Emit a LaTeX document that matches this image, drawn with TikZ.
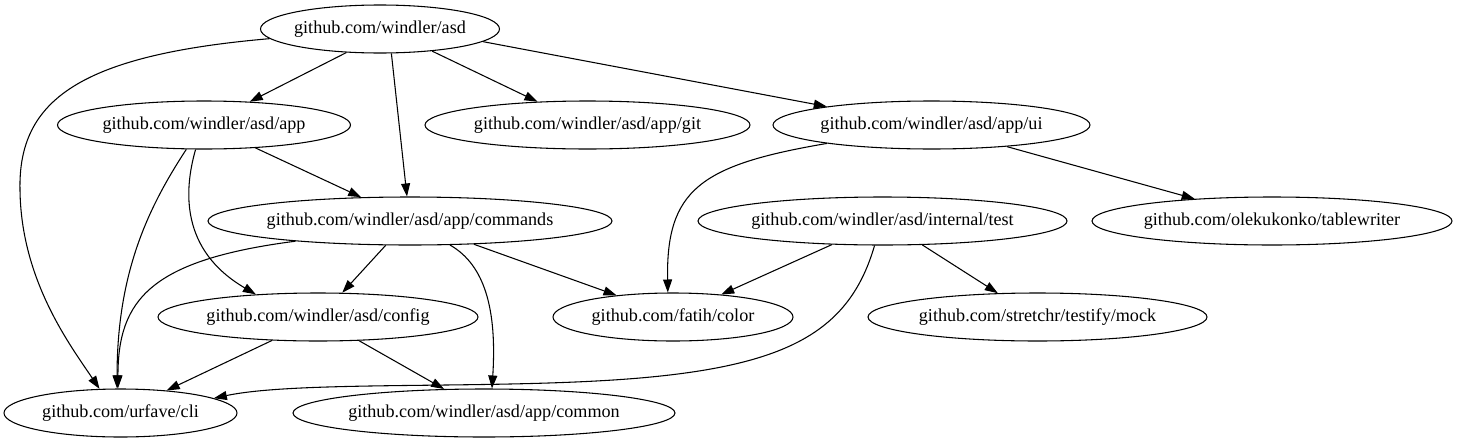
\documentclass[tikz,border=0pt]{standalone}
\usepackage{fontspec}
\setmainfont{Liberation Serif}
\usetikzlibrary{shapes.geometric,arrows.meta}

\begin{document}
\begin{tikzpicture}[x=0.75pt, y=-0.75pt,
  pkg/.style={draw, ellipse, line width=0.8pt, inner ysep=0pt, inner xsep=-4pt, minimum height=36pt, minimum width=#1*0.75pt, font=\fontsize{13.6}{16}\selectfont},
  dep/.style={line width=0.8pt, -{Triangle[length=9.75pt, width=6.75pt]}}]

\useasboundingbox (0,0) rectangle (1459,443);

\node [pkg=239] (asd) at (380,29) {github.com/windler/asd};
\node [pkg=293] (app) at (204,125) {github.com/windler/asd/app};
\node [pkg=325] (git) at (587.5,125) {github.com/windler/asd/app/git};
\node [pkg=317] (ui) at (931.5,125) {github.com/windler/asd/app/ui};
\node [pkg=404] (cmds) at (410,221) {github.com/windler/asd/app/commands};
\node [pkg=369] (test) at (882.5,221) {github.com/windler/asd/internal/test};
\node [pkg=360] (tw) at (1272,221) {github.com/olekukonko/tablewriter};
\node [pkg=320] (config) at (318,317) {github.com/windler/asd/config};
\node [pkg=240] (color) at (673,317) {github.com/fatih/color};
\node [pkg=339] (mock) at (1037.5,317) {github.com/stretchr/testify/mock};
\node [pkg=233] (cli) at (120.5,413) {github.com/urfave/cli};
\node [pkg=382] (common) at (484,413) {github.com/windler/asd/app/common};

\draw [dep] (asd.215) -- (app.27);
\draw [dep] (asd.295) -- (cmds.97);
\draw [dep] (asd.337) -- (git.155);
\draw [dep] (asd.353) -- (ui.170);
\draw [dep] (asd.185) .. controls (80,55) and (18,100) .. (20,190) .. controls (21,280) and (70,345) .. (cli.131);

\draw [dep] (app.234) .. controls (150,205) and (117,270) .. (cli.98);
\draw [dep] (app.336) -- (cmds.154);
\draw [dep] (app.251) .. controls (184,190) and (180,250) .. (config.160);

\draw [dep] (cmds.190) .. controls (150,260) and (118,300) .. (cli.96);
\draw [dep] (cmds.225) -- (config.45);
\draw [dep] (cmds.329) .. controls (485,265) and (497,310) .. (common.72);
\draw [dep] (cmds.340) -- (color.159);

\draw [dep] (ui.190) .. controls (700,165) and (666,190) .. (color.102);
\draw [dep] (ui.344) -- (tw.164);

\draw [dep] (test.205) -- (color.25);
\draw [dep] (test.329) -- (mock.149);
\draw [dep] (test.252) .. controls (850,330) and (790,365) .. (640,378) .. controls (500,390) and (300,380) .. (cli.9);

\draw [dep] (config.207) -- (cli.26);
\draw [dep] (config.330) -- (common.149);

\end{tikzpicture}
\end{document}
